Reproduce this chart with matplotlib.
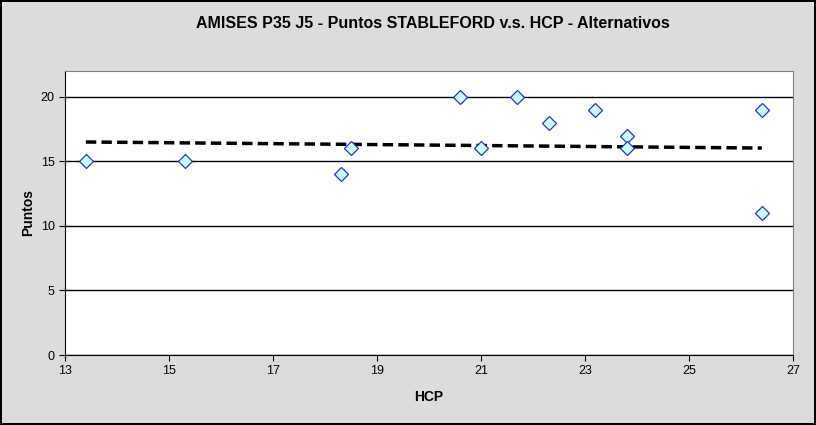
import matplotlib.pyplot as plt

hcp = [13.4, 15.3, 18.3, 18.5, 20.6, 21.0, 21.7, 22.3, 23.2, 23.8, 23.8, 26.4, 26.4]
puntos = [15, 15, 14, 16, 20, 16, 20, 18, 19, 17, 16, 19, 11]

# trendline end points
trend_x = [13.4, 26.4]
trend_y = [16.5, 16.03]

plt.rcParams['font.family'] = ['Liberation Sans', 'DejaVu Sans']

fig = plt.figure(figsize=(8.16, 4.25), dpi=100, facecolor='#DCDCDC',
                 edgecolor='black', linewidth=1.5)
ax = fig.add_axes([0.0797, 0.1647, 0.8921, 0.6683])
ax.set_facecolor('white')

ax.plot(trend_x, trend_y, color='black', linestyle=(0, (3, 1.5)), linewidth=2.5, zorder=3)

ax.plot(hcp, puntos, linestyle='none', marker='D', markersize=7.5,
        markerfacecolor='#CCFFFF', markeredgecolor='#2233CC', markeredgewidth=0.9, zorder=4)

ax.set_xlim(13, 27)
ax.set_ylim(0, 22)
ax.set_xticks(range(13, 28, 2))
ax.set_yticks(range(0, 21, 5))
ax.yaxis.grid(True, color='black', linewidth=1)
ax.set_axisbelow(True)

for s in ['top', 'right']:
    ax.spines[s].set_color('#808080')
ax.spines['left'].set_color('black')
ax.spines['bottom'].set_color('black')
ax.tick_params(direction='out', length=4, labelsize=9, colors='black')

ax.set_xlabel('HCP', fontsize=10, fontweight='bold', labelpad=9)
ax.set_ylabel('Puntos', fontsize=10, fontweight='bold', labelpad=4)
fig.suptitle('AMISES P35 J5 - Puntos STABLEFORD v.s. HCP - Alternativos',
             fontsize=11.5, fontweight='bold', x=0.53, y=0.963)

fig.savefig('out.png', dpi=100, facecolor=fig.get_facecolor(), edgecolor=fig.get_edgecolor())
